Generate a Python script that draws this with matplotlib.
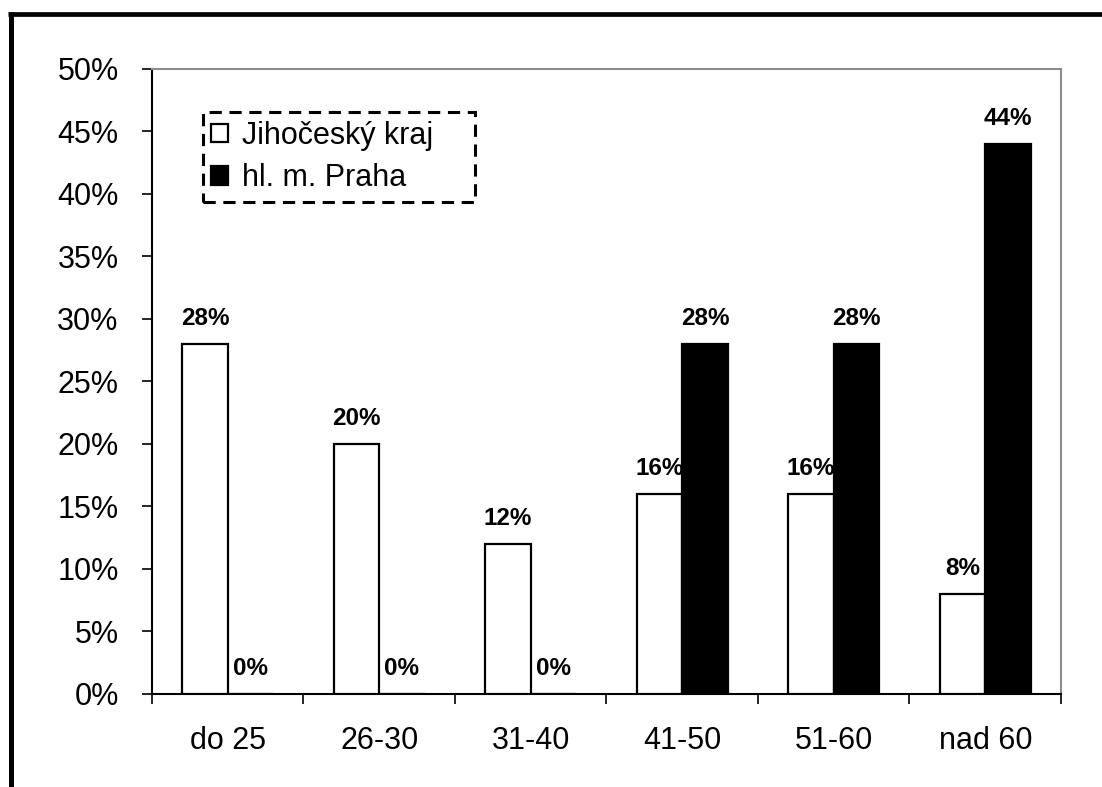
import matplotlib
matplotlib.use("Agg")
import matplotlib.pyplot as plt
from matplotlib.lines import Line2D
import numpy as np

# Age groups and share of respondents (%)
categories = ["do 25", "26-30", "31-40", "41-50", "51-60", "nad 60"]
jihocesky = [28, 20, 12, 16, 16, 8]
praha = [0, 0, 0, 28, 28, 44]
series_names = ["Jihočeský kraj", "hl. m. Praha"]
y_ticks = [0, 5, 10, 15, 20, 25, 30, 35, 40, 45, 50]

plt.rcParams["font.family"] = ["Liberation Sans", "DejaVu Sans"]

fig = plt.figure(figsize=(11.02, 7.87), dpi=100)
ax = fig.add_axes([0.1379, 0.1182, 0.8249, 0.7942])

x = np.arange(len(categories))
w = 0.3
b1 = ax.bar(x - w / 2, jihocesky, width=w, facecolor="white",
            edgecolor="black", linewidth=1.6, label=series_names[0], zorder=3)
b2 = ax.bar(x + w / 2, praha, width=w, facecolor="black",
            edgecolor="black", linewidth=1.6, label=series_names[1], zorder=3)

for bars, vals in ((b1, jihocesky), (b2, praha)):
    ax.bar_label(bars, labels=[f"{v}%" for v in vals], padding=10,
                 fontsize=17.5, fontweight="bold")

ax.set_xlim(-0.5, len(categories) - 0.5)
ax.set_ylim(0, 50)

ax.set_yticks(y_ticks)
ax.set_yticklabels([f"{v}%" for v in y_ticks])
ax.tick_params(axis="y", direction="out", length=7, width=1.2,
               labelsize=22, pad=17, color="black")

# Category labels centred, tick marks at group boundaries
ax.set_xticks(x)
ax.set_xticklabels(categories)
ax.tick_params(axis="x", which="major", length=0, labelsize=22, pad=23)
ax.set_xticks(np.arange(-0.5, len(categories)), minor=True)
ax.tick_params(axis="x", which="minor", direction="out", length=7, width=1.2,
               color="black")

for side in ("left", "bottom"):
    ax.spines[side].set_color("black")
    ax.spines[side].set_linewidth(1.5)
for side in ("top", "right"):
    ax.spines[side].set_color("#8c8c8c")
    ax.spines[side].set_linewidth(1.5)

leg = ax.legend(loc="upper left", bbox_to_anchor=(0.056, 0.5, 0.2992, 0.431),
                mode="expand", borderaxespad=0, fancybox=False, framealpha=1,
                edgecolor="black", fontsize=22, handlelength=0.55,
                handleheight=0.55, handletextpad=0.45, labelspacing=0.42,
                borderpad=0.28)
leg.get_frame().set_linestyle((0, (4, 2.5)))
leg.get_frame().set_linewidth(2.2)

# Heavy frame lines along the top and left edges of the figure
fig.add_artist(Line2D([8 / 1102, 1.0], [1 - 14.3 / 787, 1 - 14.3 / 787],
                      transform=fig.transFigure, color="black", linewidth=3.4,
                      solid_capstyle="butt"))
fig.add_artist(Line2D([10.8 / 1102, 10.8 / 1102], [0.0, 1 - 12 / 787],
                      transform=fig.transFigure, color="black", linewidth=3.6,
                      solid_capstyle="butt"))

fig.savefig("out.png", dpi=100)
